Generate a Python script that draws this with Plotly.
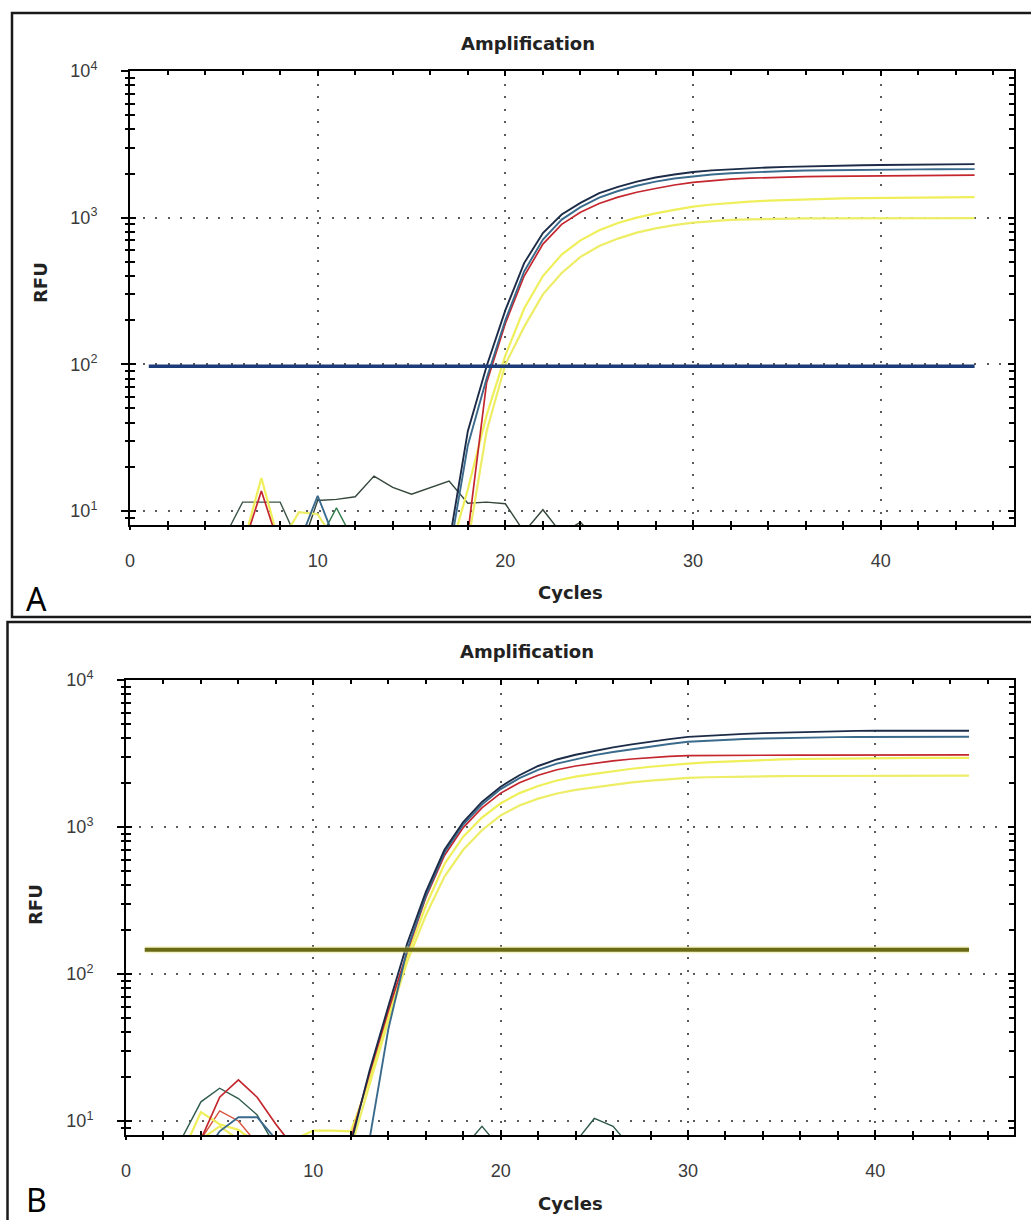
import plotly.graph_objects as go

W, H = 1031, 1220

cycles = list(range(1, 46))

# ---------------- Panel A data (RFU per cycle 1..45) ----------------
a_navy = [4]*16 + [6, 35, 97, 234, 490, 785, 1050, 1260, 1470, 1620, 1760, 1880, 1970, 2050,
                   2100, 2140, 2170, 2200, 2220, 2240, 2255, 2265, 2275, 2285, 2295, 2300, 2305, 2310, 2317]
a_blue = [4]*8 + [6, 12.7, 6] + [4]*5 + [5, 28, 80, 200, 430, 710, 970, 1180, 1370, 1520, 1650, 1760, 1850,
                                        1920, 1970, 2010, 2040, 2060, 2080, 2095, 2105, 2115, 2120, 2125,
                                        2130, 2135, 2138, 2140, 2143]
a_red = [4]*5 + [5.5, 13.7, 5.5] + [4]*9 + [7, 75, 190, 400, 660, 900, 1090, 1250, 1380, 1490, 1580, 1670,
                                          1740, 1790, 1830, 1860, 1880, 1895, 1905, 1915, 1922, 1928, 1933,
                                          1938, 1942, 1945, 1948, 1950]
a_yellow1 = [4]*5 + [5.7, 16.8, 5.7] + [4]*8 + [5, 14, 45, 115, 240, 400, 560, 700, 820, 920, 1000, 1070,
                                              1130, 1190, 1230, 1260, 1285, 1305, 1320, 1333, 1343, 1352,
                                              1360, 1365, 1370, 1373, 1376, 1378, 1380]
a_yellow2 = [4]*7 + [6, 9.8, 9.5, 6] + [4]*6 + [6, 35, 100, 180, 300, 420, 540, 640, 720, 790, 845, 890, 925,
                                              950, 965, 975, 982, 986, 988, 990, 991, 992, 992, 993, 993,
                                              993, 993, 993]
a_ntc1 = [4]*4 + [6.5, 11.5, 11.5, 11.5, 6] + [4]*36
a_ntc2 = [4]*8 + [5, 11.8, 12, 12.5, 17.3, 14.5, 13, 14.5, 16, 11.3, 11.5, 11.2, 7.2, 10.2, 7, 8.4, 6] + [4]*20
a_green = [4]*9 + [6, 10.5, 6] + [4]*33
a_threshold = 97

# ---------------- Panel B data ----------------
b_navy = [4]*11 + [7, 22, 60, 160, 360, 700, 1080, 1480, 1880, 2250, 2600, 2880, 3100, 3300, 3480, 3650,
                   3810, 3960, 4100, 4180, 4250, 4300, 4350, 4390, 4430, 4470, 4490, 4505, 4515, 4520,
                   4520, 4520, 4520, 4520]
b_blue = [4]*3 + [5.5, 8.5, 10.6, 10.6, 7.5] + [4]*4 + [7.5, 42, 145, 340, 670, 1040, 1420, 1810, 2150, 2450,
                                                    2700, 2900, 3080, 3240, 3390, 3530, 3670, 3800, 3870,
                                                    3930, 3970, 4000, 4030, 4050, 4070, 4085, 4095, 4100,
                                                    4105, 4108, 4110, 4110, 4110]
b_red = [4]*3 + [7.5, 14.5, 19, 14.5, 9.5, 6.5] + [4]*2 + [7.5, 21, 56, 140, 330, 640, 990, 1350, 1700, 2000,
                                                       2250, 2450, 2600, 2720, 2820, 2900, 2970, 3020, 3060,
                                                       3070, 3075, 3080, 3082, 3085, 3086, 3087, 3088, 3089,
                                                       3090, 3090, 3090, 3090, 3090, 3090]
b_orange = [4]*3 + [7.5, 11.7, 10, 7] + [4]*38
b_yellow1 = [4, 4, 6, 11.5, 9.5, 8.7, 7, 6, 7.5, 8.6, 8.6, 8.5] + [19, 52, 130, 290, 560, 860, 1160, 1450, 1700,
                                                             1900, 2070, 2200, 2300, 2400, 2490, 2570, 2640,
                                                             2700, 2750, 2790, 2830, 2860, 2880, 2900, 2915,
                                                             2925, 2935, 2940, 2945, 2948, 2950, 2950, 2950]
b_yellow2 = [4, 4, 4, 7.5, 9.2, 7.5, 4, 4, 4, 4, 4] + [6.5, 18, 48, 120, 250, 460, 700, 950, 1200, 1400, 1560,
                                                      1690, 1790, 1860, 1940, 2010, 2070, 2120, 2160, 2180,
                                                      2195, 2205, 2212, 2218, 2222, 2225, 2228, 2230, 2231,
                                                      2232, 2233, 2233, 2233, 2233]
b_ntc = [4, 4, 7.7, 13.5, 16.7, 14.2, 11, 6.5] + [4]*9 + [6.5, 9.2, 6.5] + [4]*3 + [7.2, 10.4, 9.2, 6.5] + [4]*18
b_threshold = 146

threshold_cycles = [1, 45]

x_ticks = [0, 10, 20, 30, 40]
y_ticks = [10, 100, 1000, 10000]
y_tick_text = ["10<sup>1</sup>", "10<sup>2</sup>", "10<sup>3</sup>", "10<sup>4</sup>"]

# ---------------- colours ----------------
C_NAVY = "#1c2c48"
C_BLUE = "#3a6a8c"
C_RED = "#c4262e"
C_ORANGE = "#d8503a"
C_YEL1 = "#efef5a"
C_YEL2 = "#eded66"
C_NTC_A1 = "#3b5648"
C_NTC_A2 = "#34473a"
C_GREEN = "#2f7d4a"
C_NTC_B = "#2e5a4c"

fig = go.Figure()

def add(xa, ya, y, color, width):
    fig.add_trace(go.Scatter(x=cycles, y=y, mode="lines", xaxis=xa, yaxis=ya,
                             line=dict(color=color, width=width), showlegend=False,
                             hoverinfo="skip"))

# Panel A
add("x", "y", a_ntc1, C_NTC_A1, 1.4)
add("x", "y", a_ntc2, C_NTC_A2, 1.4)
add("x", "y", a_green, C_GREEN, 1.4)
add("x", "y", a_yellow2, C_YEL2, 2.2)
add("x", "y", a_yellow1, C_YEL1, 2.2)
add("x", "y", a_red, C_RED, 1.7)
add("x", "y", a_blue, C_BLUE, 1.9)
add("x", "y", a_navy, C_NAVY, 1.9)
fig.add_trace(go.Scatter(x=threshold_cycles, y=[a_threshold]*2, mode="lines", xaxis="x", yaxis="y",
                         line=dict(color="#1b3c78", width=3.5), showlegend=False, hoverinfo="skip"))

# Panel B
add("x2", "y2", b_ntc, C_NTC_B, 1.4)
add("x2", "y2", b_orange, C_ORANGE, 1.4)
add("x2", "y2", b_yellow2, C_YEL2, 2.2)
add("x2", "y2", b_yellow1, C_YEL1, 2.2)
add("x2", "y2", b_red, C_RED, 1.7)
add("x2", "y2", b_blue, C_BLUE, 1.9)
add("x2", "y2", b_navy, C_NAVY, 1.9)
fig.add_trace(go.Scatter(x=threshold_cycles, y=[b_threshold]*2, mode="lines", xaxis="x2", yaxis="y2",
                         line=dict(color="rgba(230,230,130,0.45)", width=7), showlegend=False, hoverinfo="skip"))
fig.add_trace(go.Scatter(x=threshold_cycles, y=[b_threshold]*2, mode="lines", xaxis="x2", yaxis="y2",
                         line=dict(color="#6a6a16", width=4), showlegend=False, hoverinfo="skip"))

# empty traces so the overlay (outer tick / label) axes get drawn
for xa, ya in (("x3", "y3"), ("x4", "y4")):
    fig.add_trace(go.Scatter(x=[None], y=[None], mode="lines", xaxis=xa, yaxis=ya,
                             showlegend=False, hoverinfo="skip"))

def px(x):
    return x / W

def py(y):
    return 1 - y / H

A_DOM_X = [px(130), px(1014)]
A_DOM_Y = [py(525), py(71)]
B_DOM_X = [px(126), px(1014)]
B_DOM_Y = [py(1135), py(680)]
A_XR = [0.0, 47.1]
B_XR = [0.0, 47.4]
YR = [0.9045, 4]

minor_log = [m * 10 ** e for e in range(0, 4) for m in range(2, 10)]
tickfont = dict(family="Liberation Sans, Arial", size=18, color="#3a3a3a")
GRID = dict(showgrid=True, gridcolor="#5a5a5a", gridwidth=2, griddash="2px,10.6px")

def main_x(dom, rng, anchor):
    return dict(domain=dom, range=rng, anchor=anchor, showline=True, linecolor="black", linewidth=2,
                mirror="ticks", ticks="inside", ticklen=5, tickwidth=2, tickcolor="black",
                tickmode="array", tickvals=x_ticks, showticklabels=False, zeroline=False,
                automargin=False,
                minor=dict(ticks="inside", dtick=2, tick0=0, ticklen=4, tickwidth=2, tickcolor="black",
                           showgrid=False),
                **GRID)

def over_x(over, rng, anchor):
    return dict(overlaying=over, range=rng, anchor=anchor, side="bottom", showline=False, showgrid=False,
                zeroline=False, ticks="outside", ticklen=4, tickwidth=2, tickcolor="black",
                tickmode="array", tickvals=x_ticks, tickfont=tickfont, ticklabelstandoff=15,
                showticklabels=True, automargin=False,
                minor=dict(ticks="outside", dtick=2, tick0=0, ticklen=4, tickwidth=2, tickcolor="black"))

def main_y(dom, anchor):
    return dict(domain=dom, type="log", range=YR, anchor=anchor, showline=True, linecolor="black",
                linewidth=2, mirror="ticks", ticks="inside", ticklen=6, tickwidth=2, tickcolor="black",
                tickmode="array", tickvals=y_ticks, showticklabels=False, zeroline=False,
                automargin=False,
                minor=dict(ticks="inside", tickmode="array", tickvals=minor_log, ticklen=5, tickwidth=2,
                           tickcolor="black", showgrid=False),
                **GRID)

def over_y(over, anchor):
    return dict(overlaying=over, type="log", range=YR, anchor=anchor, side="left", showline=False,
                showgrid=False, zeroline=False, ticks="outside", ticklen=8, tickwidth=2, tickcolor="black",
                tickmode="array", tickvals=y_ticks, ticktext=y_tick_text, tickfont=tickfont,
                ticklabelstandoff=20, showticklabels=True, automargin=False,
                minor=dict(ticks="outside", tickmode="array", tickvals=minor_log, ticklen=4, tickwidth=2,
                           tickcolor="black"))

fig.update_layout(
    width=W, height=H, margin=dict(l=0, r=0, t=0, b=0, autoexpand=False),
    paper_bgcolor="white", plot_bgcolor="white",
    xaxis=main_x(A_DOM_X, A_XR, "y"),
    yaxis=main_y(A_DOM_Y, "x"),
    xaxis2=main_x(B_DOM_X, B_XR, "y2"),
    yaxis2=main_y(B_DOM_Y, "x2"),
    xaxis3=over_x("x", A_XR, "y"),
    yaxis3=over_y("y", "x"),
    xaxis4=over_x("x2", B_XR, "y2"),
    yaxis4=over_y("y2", "x2"),
)

title_font = dict(family="DejaVu Sans, Verdana", size=18, color="#222222")

def ann(text, x, y, font, angle=0):
    fig.add_annotation(text=text, x=px(x), y=py(y), xref="paper", yref="paper", showarrow=False,
                       xanchor="center", yanchor="middle", font=font, textangle=angle)

ann("<b>Amplification</b>", 528, 44, title_font)
ann("<b>Cycles</b>", 570, 593, title_font)
ann("<b>RFU</b>", 40, 283, title_font, -90)
ann("<b>Amplification</b>", 527, 651, title_font)
ann("<b>Cycles</b>", 570, 1203, title_font)
ann("<b>RFU</b>", 35, 905, title_font, -90)

letter_font = dict(family="Noto Sans, Liberation Sans", size=32, color="black")
ann("A", 36, 598, letter_font)
ann("B", 36, 1199, letter_font)

# panel borders
fig.add_shape(type="rect", xref="paper", yref="paper", x0=px(12), y0=py(13), x1=px(1033), y1=py(617),
              line=dict(color="#1a1a1a", width=2.5), layer="above")
fig.add_shape(type="rect", xref="paper", yref="paper", x0=px(7.5), y0=py(622), x1=px(1033), y1=py(1223),
              line=dict(color="#1a1a1a", width=2.5), layer="above")

fig.write_html("out.html", config={"displayModeBar": False},
               post_script="document.body.style.margin='0';document.body.style.overflow='hidden';")
